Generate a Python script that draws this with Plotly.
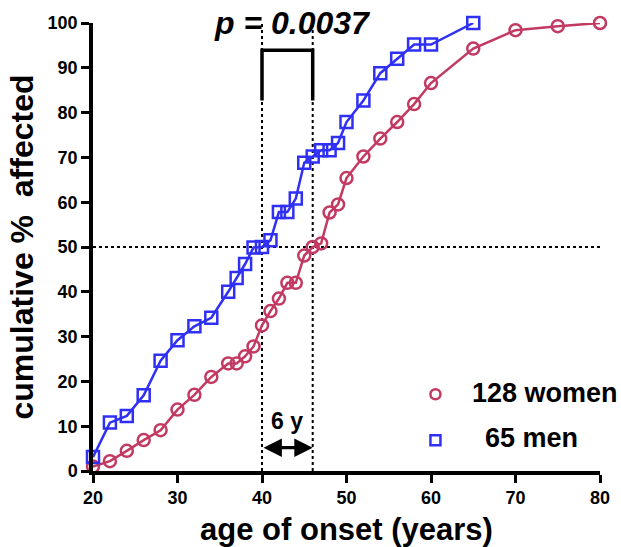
import plotly.graph_objects as go

# ---- data ----
women_age = [20, 22, 24, 26, 28, 30, 32, 34, 36, 37, 38, 39, 40, 41, 42, 43, 44, 45,
             46, 47, 48, 49, 50, 52, 54, 56, 58, 60, 65, 70, 75, 80]
women_pct = [1.0, 2.2, 4.5, 6.9, 9.1, 13.7, 17.0, 21.0, 24.0, 24.0, 25.6, 27.8, 32.5,
             35.7, 38.5, 42.0, 42.0, 48.1, 50.0, 50.8, 57.7, 59.5, 65.4, 70.2, 74.2,
             77.9, 81.9, 86.6, 94.3, 98.4, 99.3, 100.0]

men_age = [20, 22, 24, 26, 28, 30, 32, 34, 36, 37, 38, 39, 40, 41, 42, 43, 44, 45, 46,
           47, 48, 49, 50, 52, 54, 56, 58, 60, 65]
men_pct = [3.1, 10.8, 12.3, 16.9, 24.6, 29.2, 32.3, 34.2, 40.0, 43.1, 46.2, 49.9, 50.0,
           51.5, 57.8, 57.8, 60.8, 68.8, 70.2, 71.6, 71.6, 73.2, 77.9, 82.7, 88.8, 92.0,
           95.2, 95.2, 100.0]

women_label = "128 women"
men_label = "65 men"
median_men = 40
median_women = 46
median_level = 50
p_text = "p = 0.0037"
diff_text = "6 y"
bracket_low, bracket_high = 82.7, 93.9
arrow_level = 5.2
x_ticks = [20, 30, 40, 50, 60, 70, 80]
y_ticks = [0, 10, 20, 30, 40, 50, 60, 70, 80, 90, 100]

WOMEN_COLOR = "#C23A62"
MEN_COLOR = "#3030F5"
FONT = "Liberation Sans, Arial, sans-serif"

fig = go.Figure()

fig.add_trace(go.Scatter(
    x=women_age, y=women_pct, mode="lines+markers", name=women_label,
    line=dict(color=WOMEN_COLOR, width=2.5),
    marker=dict(symbol="circle-open", size=12, color=WOMEN_COLOR,
                line=dict(width=2.5, color=WOMEN_COLOR)),
    cliponaxis=False, showlegend=False, hoverinfo="skip"))
fig.add_trace(go.Scatter(
    x=men_age, y=men_pct, mode="lines+markers", name=men_label,
    line=dict(color=MEN_COLOR, width=2.5),
    marker=dict(symbol="square-open", size=12, color=MEN_COLOR,
                line=dict(width=2.5, color=MEN_COLOR)),
    cliponaxis=False, showlegend=False, hoverinfo="skip"))

# legend symbols (markers only); legend text is placed as annotations
fig.add_trace(go.Scatter(
    x=[None], y=[None], mode="markers", name="\u00a0", legendgroup="w",
    marker=dict(symbol="circle-open", size=10, color=WOMEN_COLOR,
                line=dict(width=2.5, color=WOMEN_COLOR))))
fig.add_trace(go.Scatter(
    x=[None], y=[None], mode="markers", name="\u00a0", legendgroup="m",
    marker=dict(symbol="square-open", size=10, color=MEN_COLOR,
                line=dict(width=2.5, color=MEN_COLOR))))

legend_font = dict(family=FONT, size=27, color="black")
fig.add_annotation(x=0.7436, y=0.174, xref="paper", yref="paper", text=f"<b>{women_label}</b>",
                   showarrow=False, xanchor="left", yanchor="middle", font=legend_font)
fig.add_annotation(x=0.769, y=0.0737, xref="paper", yref="paper", text=f"<b>{men_label}</b>",
                   showarrow=False, xanchor="left", yanchor="middle", font=legend_font)

# dotted reference lines
dot = dict(color="black", width=2, dash="dot")
fig.add_shape(type="line", xref="x", yref="y", x0=x_ticks[0], x1=x_ticks[-1],
              y0=median_level, y1=median_level, line=dot, layer="below")
for xm in (median_men, median_women):
    fig.add_shape(type="line", xref="x", yref="y", x0=xm, x1=xm,
                  y0=y_ticks[0], y1=y_ticks[-1], line=dot, layer="below")

# significance bracket
fig.add_shape(type="path", xref="x", yref="y",
              path=f"M {median_men},{bracket_low} L {median_men},{bracket_high} "
                   f"L {median_women},{bracket_high} L {median_women},{bracket_low}",
              line=dict(color="black", width=3.5))

fig.add_annotation(x=(median_men + median_women) / 2, y=100, xref="x", yref="y",
                   text=f"<b><i>{p_text}</i></b>", showarrow=False, xshift=5,
                   font=dict(family=FONT, size=32, color="black"), yanchor="middle")

# 6 y arrow
fig.add_annotation(x=median_women, y=arrow_level, ax=median_men, ay=arrow_level,
                   xref="x", yref="y", axref="x", ayref="y", text="",
                   showarrow=True, arrowhead=2, startarrowhead=2, arrowside="end+start",
                   arrowsize=1.15, startarrowsize=1.15, arrowwidth=3.2, arrowcolor="black",
                   standoff=0, startstandoff=0)
fig.add_annotation(x=(median_men + median_women) / 2, y=arrow_level, xref="x", yref="y",
                   text=f"<b>{diff_text}</b>", showarrow=False, yanchor="bottom",
                   yshift=12, font=dict(family=FONT, size=23, color="black"))

axis_common = dict(
    showline=True, linewidth=3.5, linecolor="black", ticks="outside", ticklen=8,
    tickwidth=3, tickcolor="black", showgrid=False, zeroline=False, automargin=False,
    tickfont=dict(family=FONT, size=18, color="black", weight="bold"),
)

fig.update_xaxes(range=[x_ticks[0], x_ticks[-1]], tickvals=x_ticks, **axis_common,
                 title=dict(text="<b>age of onset (years)</b>", standoff=12,
                            font=dict(family=FONT, size=31, color="black")))
fig.update_yaxes(range=[y_ticks[0], y_ticks[-1]], tickvals=y_ticks, **axis_common,
                 title=dict(text="<b>cumulative %\u00a0\u00a0affected</b>", standoff=5,
                            font=dict(family=FONT, size=32, color="black")))

fig.update_layout(
    width=621, height=547,
    margin=dict(l=93, r=21, t=23, b=76),
    paper_bgcolor="white", plot_bgcolor="white",
    font=dict(family=FONT, color="black"),
    hovermode=False,
    legend=dict(x=0.636, y=0.225, xanchor="left", yanchor="top",
                font=dict(family=FONT, size=27, color="black"),
                tracegroupgap=8, bgcolor="rgba(0,0,0,0)", itemsizing="trace"),
)

fig.write_html("out.html", config={"displayModeBar": False},
               post_script="document.body.style.margin='0';")
